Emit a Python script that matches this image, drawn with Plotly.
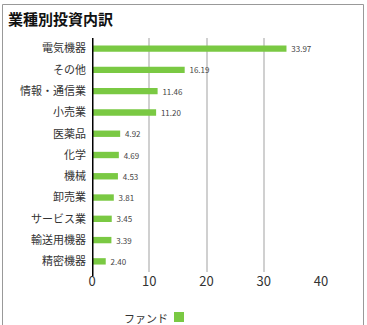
import plotly.graph_objects as go

# Sector breakdown of the fund's holdings (%)
categories = ["電気機器", "その他", "情報・通信業", "小売業", "医薬品", "化学",
              "機械", "卸売業", "サービス業", "輸送用機器", "精密機器"]
values = [33.97, 16.19, 11.46, 11.20, 4.92, 4.69, 4.53, 3.81, 3.45, 3.39, 2.40]
x_ticks = [0, 10, 20, 30, 40]
series_name = "ファンド"
title_text = "業種別投資内訳"

GREEN = "#7ac943"
FONT = "Noto Sans CJK JP"

W, H = 367, 325
ML, MR, MT, MB = 92, 46, 38, 53
pw, ph = W - ML - MR, H - MT - MB


def px_to_paper_x(px):
    return (px - ML) / pw


def px_to_paper_y(py):
    return (H - MB - py) / ph


fig = go.Figure()
fig.add_trace(go.Bar(
    x=values,
    y=categories,
    orientation="h",
    name=series_name,
    marker=dict(color=GREEN, line=dict(width=0)),
    width=0.3,
    text=[f"{v:.2f}" for v in values],
    texttemplate=" %{text}",
    textposition="outside",
    constraintext="none",
    textfont=dict(family=FONT, size=8, color="#444"),
    cliponaxis=False,
    showlegend=False,
))

fig.update_layout(
    width=W, height=H,
    margin=dict(l=ML, r=MR, t=MT, b=MB),
    paper_bgcolor="white",
    plot_bgcolor="white",
    font=dict(family=FONT, color="#333"),
    title=dict(text=f"<b>{title_text}</b>", x=8 / W, xanchor="left",
               y=1 - 20 / H, yanchor="middle", xref="container", yref="container",
               font=dict(family=FONT, size=15, color="#111")),
    xaxis=dict(range=[0, 40], tickvals=x_ticks, ticktext=[str(t) for t in x_ticks],
               showgrid=True, gridcolor="#d0d0d0", gridwidth=2,
               zeroline=False, showline=False, ticks="",
               tickfont=dict(family=FONT, size=13, color="#333")),
    yaxis=dict(autorange="reversed", showgrid=False, zeroline=False,
               showline=False, ticks="", ticksuffix="  ",
               tickfont=dict(family=FONT, size=11, color="#333")),
    bargap=0.7,
    shapes=[
        # outer frame (open at the bottom)
        dict(type="rect", xref="paper", yref="paper",
             x0=px_to_paper_x(2.5), x1=px_to_paper_x(363.5),
             y0=px_to_paper_y(340), y1=px_to_paper_y(4.5),
             line=dict(color="#999", width=1), fillcolor="rgba(0,0,0,0)", layer="below"),
        # category axis line
        dict(type="line", xref="x", yref="paper", x0=0, x1=0,
             y0=px_to_paper_y(276), y1=px_to_paper_y(38),
             line=dict(color="black", width=3)),
        # legend swatch
        dict(type="rect", xref="paper", yref="paper",
             x0=px_to_paper_x(174), x1=px_to_paper_x(184),
             y0=px_to_paper_y(322), y1=px_to_paper_y(312),
             line=dict(width=0), fillcolor=GREEN),
    ],
    annotations=[
        dict(text=series_name, xref="paper", yref="paper",
             x=px_to_paper_x(170), y=px_to_paper_y(318),
             xanchor="right", yanchor="middle", showarrow=False,
             font=dict(family=FONT, size=11, color="#333")),
    ],
)

fig.write_html("out.html")
